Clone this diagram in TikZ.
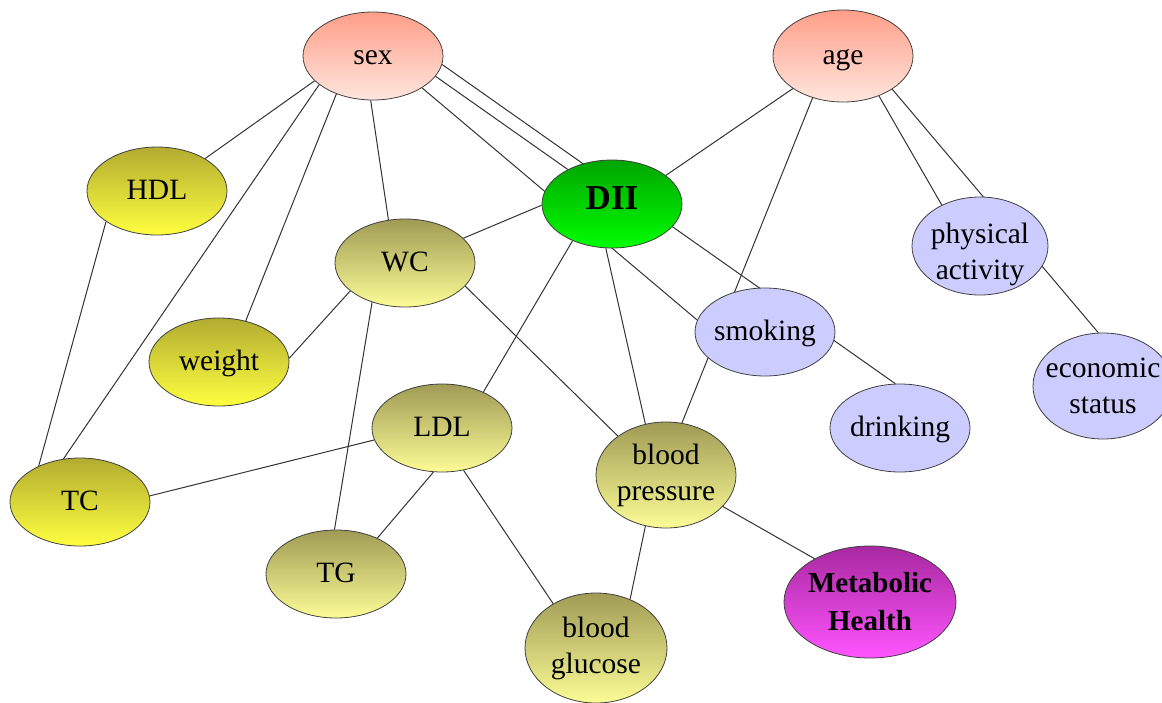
\documentclass[tikz,border=0pt]{standalone}
\usepackage{fontspec}
\setmainfont{Liberation Serif}
\usetikzlibrary{shapes.geometric, backgrounds}
\definecolor{salmontop}{RGB}{255,158,136}
\definecolor{salmonbot}{RGB}{255,230,222}
\definecolor{greentop}{RGB}{0,165,0}
\definecolor{greenbot}{RGB}{0,255,0}
\definecolor{yellowtop}{RGB}{178,172,48}
\definecolor{yellowbot}{RGB}{255,255,64}
\definecolor{paletop}{RGB}{160,155,85}
\definecolor{palebot}{RGB}{252,252,150}
\definecolor{lavender}{RGB}{204,204,255}
\definecolor{magentatop}{RGB}{168,40,160}
\definecolor{magentabot}{RGB}{255,85,255}
\tikzset{
x=1pt, y=-1pt, % one unit is one pixel of the layout, y runs downwards
every node/.style={ellipse, draw=black!75, line width=0.8pt, inner xsep=-20pt, inner ysep=0pt, align=center, minimum width=140pt, minimum height=88pt, font=\fontsize{29.5}{36}\selectfont}, % every variable is an ellipse
oneline/.style={text height=22pt, text depth=6pt}, % single words sit on the same baseline
factor/.style={top color=salmontop, bottom color=salmonbot}, % sex and age
exposure/.style={top color=greentop, bottom color=greenbot, font=\fontsize{35}{40}\selectfont\bfseries, text depth=12pt}, % DII
strong/.style={top color=yellowtop, bottom color=yellowbot}, % bright yellow ones
pale/.style={top color=paletop, bottom color=palebot}, % paler yellow ones
habit/.style={fill=lavender}, % lifestyle variables
outcome/.style={top color=magentatop, bottom color=magentabot, font=\fontsize{29}{38}\selectfont\bfseries}, % metabolic health
link/.style={draw=black!80, line width=1pt}, % plain undirected connector
}

\begin{document}
\begin{tikzpicture}
        \useasboundingbox (0,0) rectangle (1162,702);

        \node[factor, oneline] (sex) at (373,56) {sex};
        \node[factor, oneline, minimum height=92pt] (age) at (843,56) {age};
        \node[exposure] (dii) at (612,204) {DII};
        \node[strong, oneline] (hdl) at (157,191) {HDL};
        \node[pale, oneline] (wc) at (405,263) {WC};
        \node[strong, oneline] (weight) at (219,362) {weight};
        \node[strong, oneline] (tc) at (80,502) {TC};
        \node[pale, oneline] (ldl) at (442,428) {LDL};
        \node[pale, oneline] (tg) at (336,574) {TG};
        \node[pale, minimum height=106pt] (bp) at (666,475) {blood\\pressure};
        \node[pale, minimum width=142pt, minimum height=110pt] (bg) at (596,648) {blood\\glucose};
        \node[outcome, minimum width=172pt, minimum height=112pt] (mh) at (870,602) {Metabolic\\Health};
        \node[habit, oneline] (smoking) at (765,332) {smoking};
        \node[habit, oneline] (drinking) at (900,428) {drinking};
        \node[habit, minimum width=136pt, minimum height=98pt, text height=72pt, text depth=6pt, inner ysep=-10pt] (pa) at (980,246) {physical\\activity};
        \node[habit, minimum height=106pt] (econ) at (1103,386) {economic\\status};

        \begin{pgfonlayer}{background}
        \draw[link] (sex.203) -- (hdl.34);
        \draw[link] (sex.208) -- (tc.111);
        \draw[link] (hdl.211) -- (tc.139);
        \draw[link] (sex.226) -- (weight.57);
        \draw[link] (sex.267) -- (wc.111);
        \draw[link] (sex.342) -- (dii.142.5);
        \draw[link] (sex.353) -- (drinking.96.5);
        \draw[link] (sex.327) -- (smoking.170);
        \draw[link] (age.213) -- (dii.28);
        \draw[link] (age.234.5) -- (bp.73);
        \draw[link] (age.312) -- (pa.133);
        \draw[link] (age.326) -- (econ.95);
        \draw[link] (wc.23) -- (dii.181);
        \draw[link] (wc.207) -- (weight.3);
        \draw[link] (wc.339) -- (bp.141.5);
        \draw[link] (wc.230.5) -- (tg.92.5);
        \draw[link] (dii.223.5) -- (ldl.41);
        \draw[link] (dii.262) -- (bp.112.5);
        \draw[link] (ldl.190) -- (tc.5);
        \draw[link] (ldl.259) -- (tg.41);
        \draw[link] (ldl.297.5) -- (bg.134);
        \draw[link] (bp.248) -- (bg.55);
        \draw[link] (bp.331.5) -- (mh.142);
        \end{pgfonlayer}
    \end{tikzpicture}
\end{document}
